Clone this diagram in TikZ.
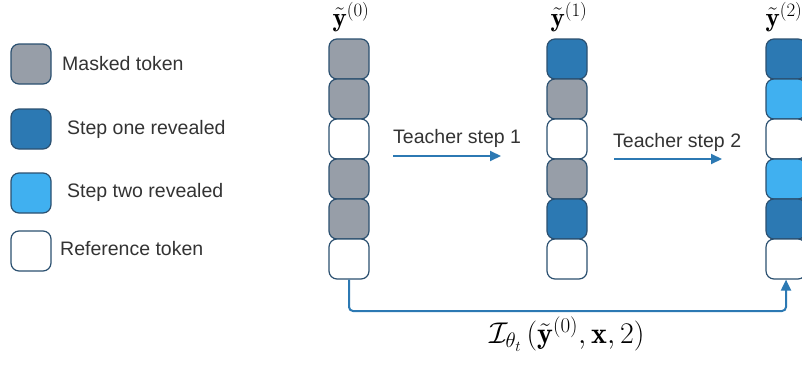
\RequirePackage{fix-cm}
\documentclass[tikz,border=0pt]{standalone}
\usepackage{amsmath}
\usepackage{fontspec}
\setsansfont{Liberation Sans}
\usepackage{tikz}
\usetikzlibrary{arrows.meta}

\definecolor{maskgray}{HTML}{979EA8}
\definecolor{stepone}{HTML}{2C79B3}
\definecolor{steptwo}{HTML}{40B0F0}
\definecolor{tokenedge}{HTML}{2B5070}
\definecolor{labelgray}{HTML}{333333}

\tikzset{
    token/.style={draw=tokenedge, line width=1.2pt, rounded corners=8pt,
        minimum width=40pt, minimum height=40pt, inner sep=0pt},
    legendtext/.style={anchor=west, inner sep=0pt, text=labelgray, font=\sffamily\fontsize{19.5}{23}\selectfont},
    steparrow/.style={draw=stepone, line width=2pt, -{Triangle[length=11pt,width=10pt]}},
    colhead/.style={font=\fontsize{27}{31}\selectfont}
}

\begin{document}
\begin{tikzpicture}[x=1pt, y=-1pt]
    \useasboundingbox (0,0) rectangle (802,364);

    % Legend
    \node[token, fill=maskgray] (lmask) at (31,64) {};
    \node[legendtext] (tmask) at (62,64) {Masked token};
    \node[token, fill=stepone] (lone) at (31,129) {};
    \node[legendtext] (tone) at (67,129) {Step one revealed};
    \node[token, fill=steptwo] (ltwo) at (31,193) {};
    \node[legendtext] (ttwo) at (67,192) {Step two revealed};
    \node[token, fill=white] (lref) at (31,251) {};
    \node[legendtext] (tref) at (60,249) {Reference token};

    % Token columns
    \foreach \c/\xpos/\cols in {0/349/{maskgray,maskgray,white,maskgray,maskgray,white},
                                1/567/{stepone,maskgray,white,maskgray,stepone,white},
                                2/786/{stepone,steptwo,white,steptwo,stepone,white}} {
        \foreach \col [count=\i] in \cols {
            \node[token, fill=\col] (c\c-\i) at (\xpos,{19+40*\i}) {};
        }
    }

    % Column headings
    \node[colhead] (h0) at (351,17) {$\tilde{\mathbf{y}}^{(0)}$};
    \node[colhead] (h1) at (569,17) {$\tilde{\mathbf{y}}^{(1)}$};
    \node[colhead, inner sep=1pt] (h2) at (784,17) {$\tilde{\mathbf{y}}^{(2)}$};

    % Teacher steps
    \coordinate (a1s) at (393,156);
    \coordinate (a1e) at (501,156);
    \draw[steparrow] (a1s) -- (a1e);
    \node[legendtext] (s1) at (393,138) {Teacher step 1};
    \coordinate (a2s) at (614,159);
    \coordinate (a2e) at (722,159);
    \draw[steparrow] (a2s) -- (a2e);
    \node[legendtext] (s2) at (613,142) {Teacher step 2};

    % Direct connection from y(0) to y(2)
    \draw[steparrow, rounded corners=4pt] (c0-6.south) -- (349,311) -- (786,311) -- (c2-6.south);
    \node[font=\fontsize{30}{34}\selectfont] (jump) at (567,334)
        {$\mathcal{I}_{\theta_t}\,(\tilde{\mathbf{y}}^{(0)}, \mathbf{x}, 2)$};

\end{tikzpicture}
\end{document}
